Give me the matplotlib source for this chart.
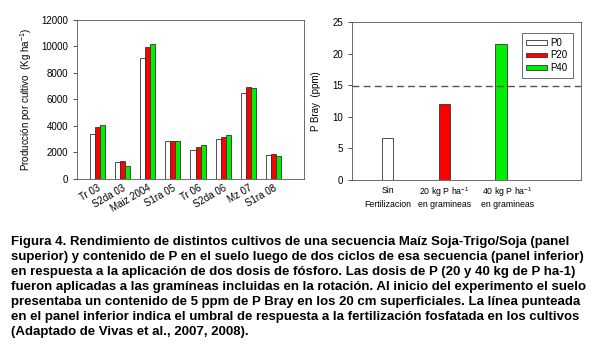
import matplotlib
matplotlib.use("Agg")
import matplotlib.pyplot as plt
import numpy as np

plt.rcParams['font.family'] = ['Liberation Sans', 'DejaVu Sans']
plt.rcParams['mathtext.fontset'] = 'custom'
plt.rcParams['mathtext.rm'] = 'Liberation Sans'

# datos panel izquierdo
cultivos = ["Tr 03", "S2da 03", "Maiz 2004", "S1ra 05", "Tr 06", "S2da 06", "Mz 07", "S1ra 08"]
p0 = [3400, 1250, 9100, 2900, 2150, 3050, 6500, 1800]
p20 = [3900, 1350, 9950, 2850, 2450, 3150, 6950, 1900]
p40 = [4050, 1000, 10200, 2850, 2550, 3300, 6850, 1750]

# datos panel derecho
trat_linea1 = ["Sin", "20 kg P ha$^{\\mathrm{-1}}$", "40 kg P ha$^{\\mathrm{-1}}$"]
trat_linea2 = ["Fertilizacion", "en gramineas", "en gramineas"]
p_bray = [6.6, 12.1, 21.6]
umbral = 14.8

series = ["P0", "P20", "P40"]
colores = ["white", "#ff0000", "#00ee00"]
borde = "#333333"
fs = 7

fig = plt.figure(figsize=(5.95, 3.54), dpi=100)
fig.patch.set_facecolor("white")

# panel izquierdo
ax1 = fig.add_axes([0.1294, 0.4944, 0.3815, 0.4492])
x = np.arange(len(cultivos))
w = 0.2
for i, vals in enumerate([p0, p20, p40]):
    ax1.bar(x + (i - 1) * w, vals, w, color=colores[i], edgecolor=borde, linewidth=0.6)
ax1.set_xlim(-0.8, 8.2)
ax1.set_ylim(0, 12000)
ax1.set_yticks(range(0, 12001, 2000))
ax1.set_xticks(x)
ax1.set_xticklabels(cultivos, rotation=30, ha="right", rotation_mode="anchor")
ax1.tick_params(axis="x", length=0, pad=3, labelsize=fs)
ax1.tick_params(axis="y", length=3, width=0.6, labelsize=fs, color=borde)
ax1.set_ylabel("Producción por cultivo  (Kg ha$^{\\mathrm{-1}}$)", fontsize=fs, labelpad=5)
for s in ax1.spines.values():
    s.set_linewidth(0.6)
    s.set_color("#555555")

# panel derecho
ax2 = fig.add_axes([0.5916, 0.4915, 0.3849, 0.4463])
xp = np.arange(len(p_bray))
for i in range(len(p_bray)):
    ax2.bar(xp[i], p_bray[i], 0.2, color=colores[i], edgecolor=borde, linewidth=0.6, label=series[i])
ax2.axhline(umbral, color="#555555", linestyle=(0, (5, 3)), linewidth=1)
ax2.set_xlim(-0.625, 3.41)
ax2.set_ylim(0, 25)
ax2.set_yticks(range(0, 26, 5))
ax2.set_xticks([])
# las etiquetas de abajo van a mano (dos lineas, con superindice)
tr = ax2.get_xaxis_transform()
corr = [0.0, 0.0, 0.11]
for i in range(len(p_bray)):
    ax2.text(xp[i] + corr[i], -0.035, trat_linea1[i], transform=tr, ha="center", va="top", fontsize=6.3)
    ax2.text(xp[i] + corr[i], -0.125, trat_linea2[i], transform=tr, ha="center", va="top", fontsize=6.3)
ax2.tick_params(axis="y", length=3, width=0.6, labelsize=fs, color=borde)
ax2.set_ylabel("P Bray  (ppm)", fontsize=fs, labelpad=8)
for s in ax2.spines.values():
    s.set_linewidth(0.6)
    s.set_color("#555555")
leg = ax2.legend(loc="upper right", bbox_to_anchor=(0.985, 0.96), fontsize=fs,
                 handlelength=2.1, handleheight=0.4, fancybox=False, framealpha=1,
                 borderpad=0.5, labelspacing=0.25, handletextpad=0.4)
leg.get_frame().set_edgecolor("#555555")
leg.get_frame().set_linewidth(0.6)

texto = ("Figura 4. Rendimiento de distintos cultivos de una secuencia Maíz Soja-Trigo/Soja (panel\n"
         "superior) y contenido de P en el suelo luego de dos ciclos de esa secuencia (panel inferior)\n"
         "en respuesta a la aplicación de dos dosis de fósforo. Las dosis de P (20 y 40 kg de P ha-1)\n"
         "fueron aplicadas a las gramíneas incluidas en la rotación. Al inicio del experimento el suelo\n"
         "presentaba un contenido de 5 ppm de P Bray en los 20 cm superficiales. La línea punteada\n"
         "en el panel inferior indica el umbral de respuesta a la fertilización fosfatada en los cultivos\n"
         "(Adaptado de Vivas et al., 2007, 2008).")
fig.text(11 / 595, 1 - 236 / 354, texto, fontsize=9.5, fontweight="bold", va="top", ha="left",
         linespacing=1.34)

fig.savefig("out.png", dpi=100, facecolor="white")
